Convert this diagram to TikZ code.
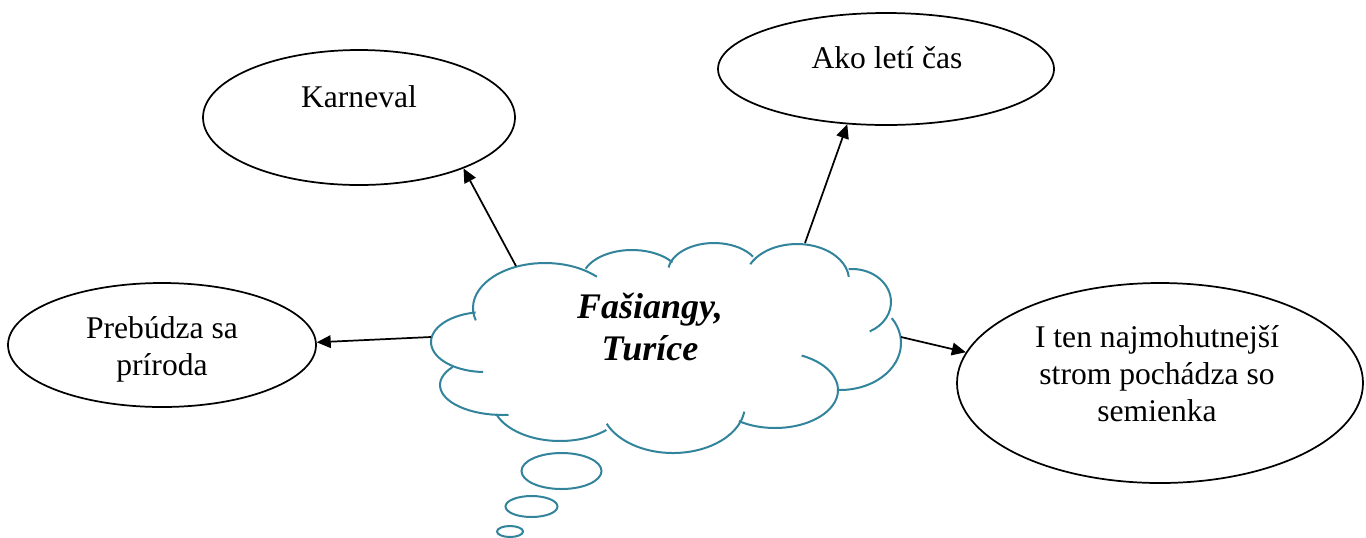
\documentclass[tikz,border=0pt]{standalone}
\usepackage{fontspec}
\setmainfont{Liberation Serif}
\usetikzlibrary{arrows.meta,shapes.geometric}
\definecolor{cloudc}{HTML}{31849B}
\begin{document}
\begin{tikzpicture}[x=0.75pt,y=0.75pt,
  oval/.style={draw=black,line width=1.3pt,ellipse,inner sep=0pt},
  txt/.style={font=\fontsize{23.7}{27.4}\selectfont,align=center,inner sep=0pt,anchor=base},
  cloudtxt/.style={font=\fontsize{27}{31.5}\selectfont\bfseries\itshape,align=center,inner sep=0pt,anchor=base},
  cl/.style={draw=cloudc,line width=1.5pt},
  arr/.style={draw=black,line width=1.3pt,-{Triangle[length=10.5pt,width=9.5pt]}}]
\useasboundingbox[fill=white] (0,0) rectangle (1366,-537);
% ellipses (sizes in pt = px*0.75)
\node[oval,minimum width=234pt,minimum height=101.25pt] (karneval) at (359,-117.5) {};
\node[txt] (karnevalT) at (359,-107) {Karneval};
\node[oval,minimum width=252pt,minimum height=84pt] (ako) at (886,-69) {};
\node[txt] (akoT) at (887,-68) {Ako letí čas};
\node[oval,minimum width=231pt,minimum height=93pt] (preb) at (162,-345) {};
\node[txt] (prebT) at (162,-375) {Prebúdza sa\\príroda};
\node[oval,minimum width=304.5pt,minimum height=150pt] (iten) at (1160,-383) {};
\node[txt] (itenT) at (1157,-421) {I ten najmohutnejší\\strom pochádza so\\semienka};
% cloud
\draw[cl] (545,-308) ++(196:72 and 45) arc[start angle=196,end angle=44,x radius=72,y radius=45];
\draw[cl] (632,-280) ++(158:50 and 30) arc[start angle=158,end angle=36,x radius=50,y radius=30];
\draw[cl] (714,-272) ++(171:46 and 29) arc[start angle=171,end angle=32,x radius=46,y radius=29];
\draw[cl] (797,-280) ++(154:52 and 36) arc[start angle=154,end angle=5,x radius=52,y radius=36];
\draw[cl] (852,-302) ++(95:39 and 33) arc[start angle=95,end angle=-63,x radius=39,y radius=33];
\draw[cl] (840,-343) ++(32:61 and 47) arc[start angle=32,end angle=-92,x radius=61,y radius=47];
\draw[cl] (775,-390) ++(65:63 and 38) arc[start angle=65,end angle=-125,x radius=63,y radius=38];
\draw[cl] (673,-405) ++(-8:72 and 48) arc[start angle=-8,end angle=-157,x radius=72,y radius=48];
\draw[cl] (560,-400) ++(-47:68 and 41) arc[start angle=-47,end angle=-160,x radius=68,y radius=41];
\draw[cl] (503,-385) ++(143:63 and 30) arc[start angle=143,end angle=275,x radius=63,y radius=30];
\draw[cl] (485,-342) ++(100:54 and 30) arc[start angle=100,end angle=268,x radius=54,y radius=30];
\draw[cl] (561.5,-471) ellipse[x radius=40,y radius=18];
\draw[cl] (531.5,-506.5) ellipse[x radius=26,y radius=10.5];
\draw[cl] (510,-531.5) ellipse[x radius=13,y radius=5.5];
\node[cloudtxt] (cloudT) at (650,-360) {Fašiangy,\\Turíce};
% arrow starts on the cloud
\coordinate (cK) at (516,-266);
\coordinate (cA) at (805,-243);
\coordinate (cP) at (431,-337);
\coordinate (cI) at (901,-337);
\draw[arr] (cK) -- (karneval.-26);
\draw[arr] (cA) -- (ako.235);
\draw[arr] (cP) -- (preb.1);
\draw[arr] (cI) -- (iten.171);
\end{tikzpicture}
\end{document}
